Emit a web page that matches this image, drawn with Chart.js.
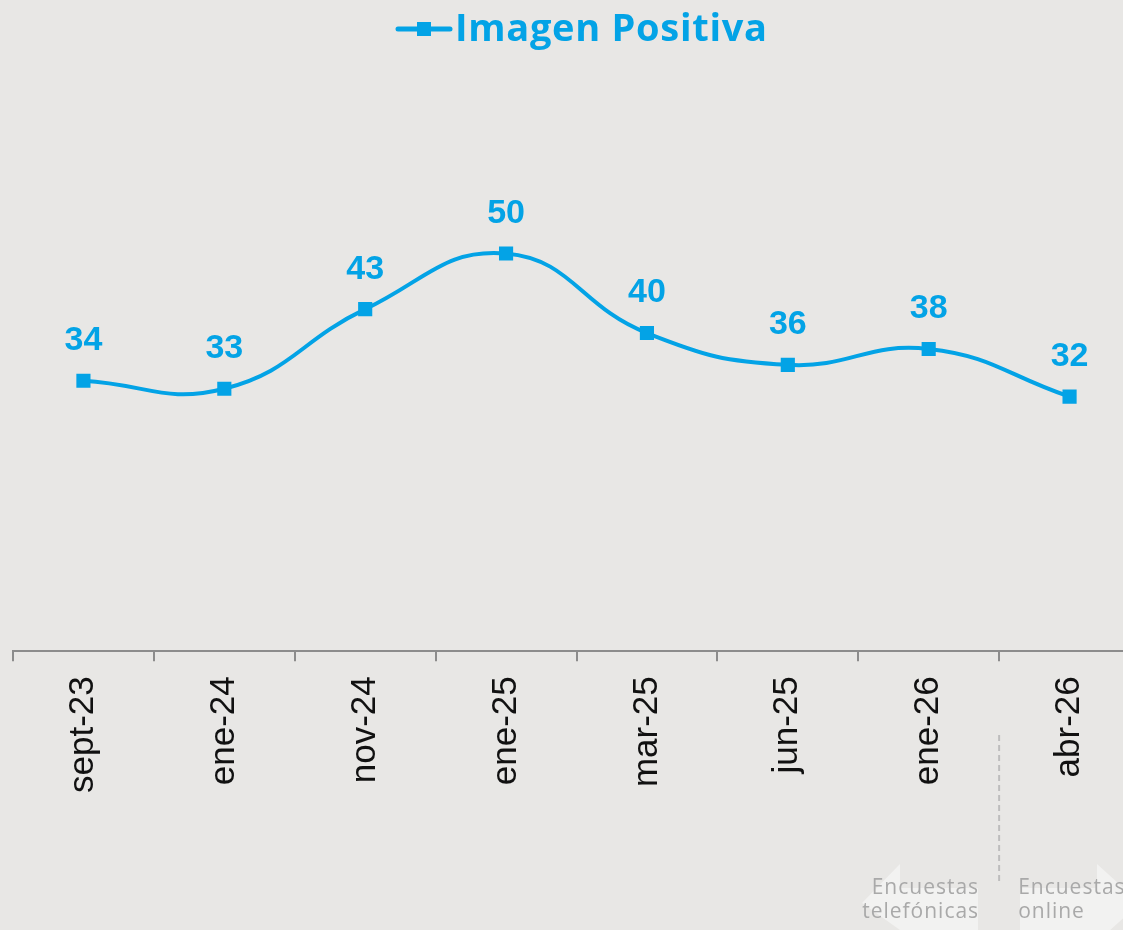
<!DOCTYPE html>
<html><head><meta charset="utf-8">
<script src="https://cdn.jsdelivr.net/npm/chart.js@4.4.0/dist/chart.umd.min.js"></script>
<style>
html,body{margin:0;padding:0;background:#E8E7E5;overflow:hidden;}
#wrap{width:1150px;height:930px;position:relative;}
</style></head>
<body><div id="wrap"><canvas id="c" width="1150" height="930"></canvas></div>
<script>
const categories = ['sept-23','ene-24','nov-24','ene-25','mar-25','jun-25','ene-26','abr-26'];
const imagenPositiva = [34, 33, 43, 50, 40, 36, 38, 32];
const seriesName = 'Imagen Positiva';
const noteLeft = ['Encuestas','telefónicas'];
const noteRight = ['Encuestas','online'];

const BLUE = '#03A3E6';

const overlay = {
  id:'overlay',
  beforeDraw(chart){
    const ctx = chart.ctx;
    ctx.save();
    ctx.fillStyle = '#E8E7E5';
    ctx.fillRect(0,0,chart.width,chart.height);
    ctx.fillStyle = 'rgba(255,255,255,0.45)';
    ctx.beginPath();
    ctx.moveTo(862,903); ctx.lineTo(900,864); ctx.lineTo(900,888); ctx.lineTo(978,888);
    ctx.lineTo(978,930); ctx.lineTo(900,930); ctx.closePath(); ctx.fill();
    ctx.beginPath();
    ctx.moveTo(1020,888); ctx.lineTo(1097,888); ctx.lineTo(1097,864); ctx.lineTo(1140,903);
    ctx.lineTo(1097,942); ctx.lineTo(1020,942); ctx.closePath(); ctx.fill();
    ctx.restore();
  },
  afterDatasetsDraw(chart){
    const ctx = chart.ctx;
    const meta = chart.getDatasetMeta(0);
    ctx.save();
    ctx.fillStyle = BLUE;
    ctx.font = 'bold 34px "Liberation Sans", Arial, sans-serif';
    ctx.textAlign = 'center';
    ctx.textBaseline = 'middle';
    meta.data.forEach((p,i)=>{
      ctx.fillText(String(chart.data.datasets[0].data[i]), p.x, p.y - 40);
    });
    // legend
    ctx.strokeStyle = BLUE; ctx.lineWidth = 5; ctx.lineCap='round';
    ctx.beginPath(); ctx.moveTo(398,29); ctx.lineTo(450,29); ctx.stroke();
    ctx.fillRect(417,22,14,14);
    ctx.font = 'bold 38px "Open Sans", sans-serif';
    try { ctx.letterSpacing = '0.7px'; } catch(e) {}
    ctx.textAlign = 'left'; ctx.textBaseline='alphabetic';
    ctx.fillText(seriesName, 455, 41);
    // divider
    const xs = chart.scales.x;
    const divX = (xs.getPixelForValue(6) + xs.getPixelForValue(7))/2;
    ctx.strokeStyle = '#BDBDBD'; ctx.lineWidth = 2; ctx.lineCap='butt';
    ctx.setLineDash([6,4]);
    ctx.beginPath(); ctx.moveTo(divX,735); ctx.lineTo(divX,885); ctx.stroke();
    ctx.setLineDash([]);
    ctx.fillStyle = '#A9A9A9';
    ctx.font = '21px "Open Sans", sans-serif';
    try { ctx.letterSpacing = '1px'; } catch(e) {}
    ctx.textAlign = 'right';
    ctx.fillText(noteLeft[0], divX-20, 894);
    ctx.fillText(noteLeft[1], divX-20, 918);
    ctx.textAlign = 'left';
    ctx.fillText(noteRight[0], divX+19, 894);
    ctx.fillText(noteRight[1], divX+19, 918);
    ctx.restore();
  }
};

new Chart(document.getElementById('c'), {
  type:'line',
  data:{labels:categories, datasets:[{
    label:seriesName, data:imagenPositiva,
    borderColor:BLUE, backgroundColor:BLUE, borderWidth:4,
    tension:0.45, pointStyle:'rect', pointRadius:10, pointHoverRadius:10,
    pointBackgroundColor:BLUE, pointBorderWidth:0
  }]},
  options:{
    responsive:false, animation:false, devicePixelRatio:1,
    layout:{padding:{left:13,right:9,top:53,bottom:122}},
    plugins:{legend:{display:false}, tooltip:{enabled:false}},
    scales:{
      y:{display:false, min:0, max:75.2},
      x:{offset:true,
        grid:{offset:true, drawOnChartArea:false, drawTicks:true, tickLength:10, color:'#8C8C8C', lineWidth:2},
        border:{display:true, color:'#8C8C8C', width:2},
        ticks:{color:'#111', minRotation:90, maxRotation:90, padding:15,
          font:{family:'"Liberation Sans", Arial, sans-serif', size:35}}
      }
    }
  },
  plugins:[overlay]
});
</script></body></html>
